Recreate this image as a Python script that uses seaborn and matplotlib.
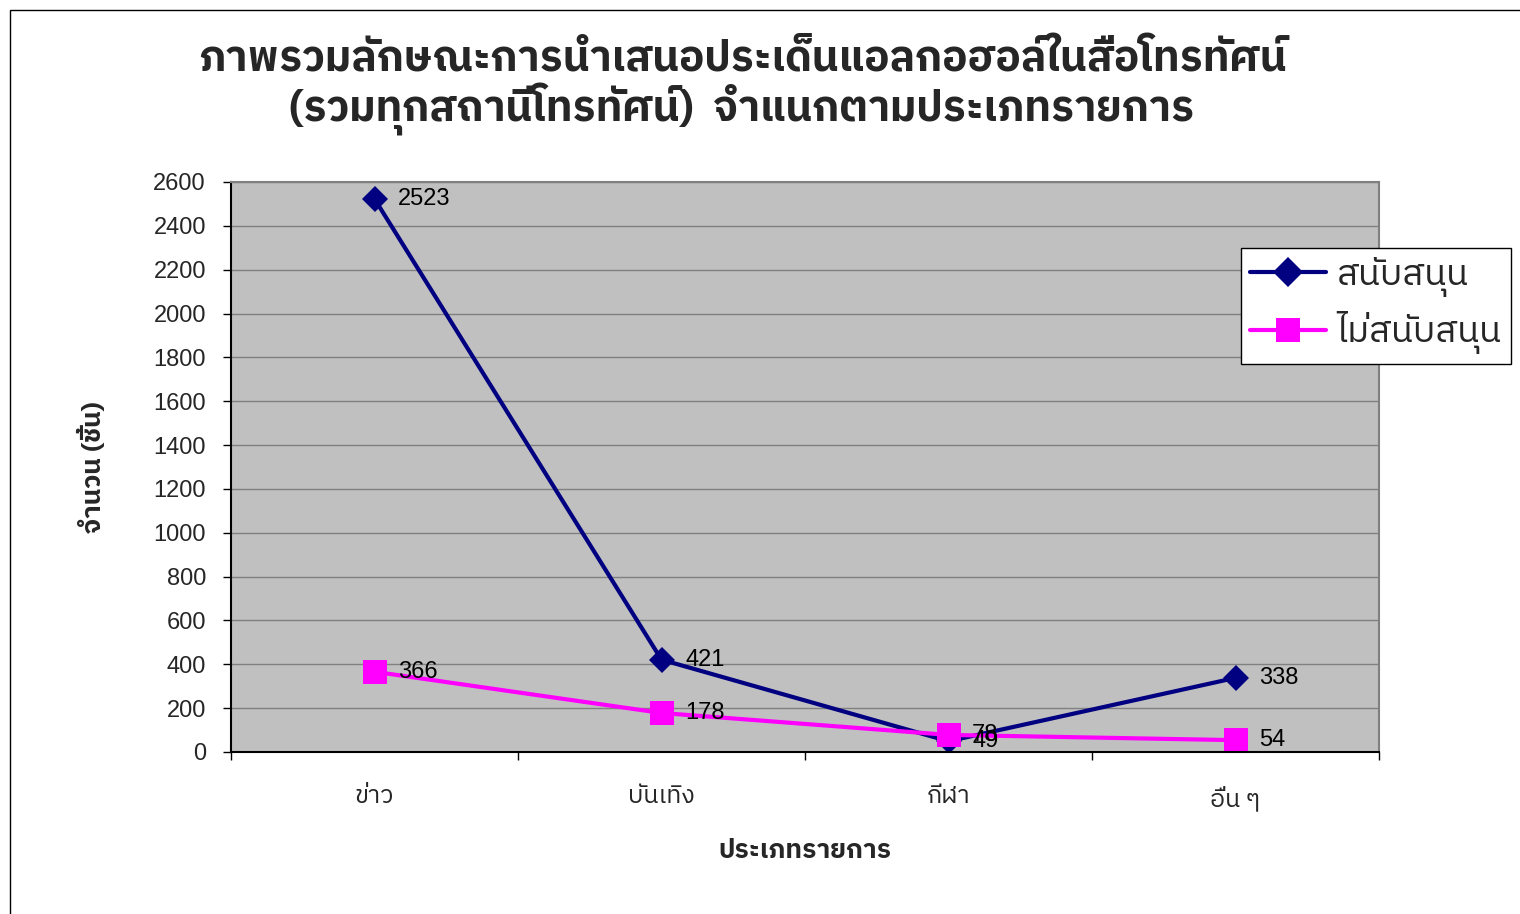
import matplotlib
matplotlib.use("Agg")
import matplotlib.pyplot as plt
import seaborn as sns
import pandas as pd
from matplotlib import font_manager
from matplotlib.ft2font import FT2Font
from matplotlib.patches import Rectangle
from matplotlib.ticker import FixedLocator

categories = ["ข่าว", "บันเทิง", "กีฬา", "อื่น ๆ"]
support = [2523, 421, 49, 338]
not_support = [366, 178, 78, 54]
series_names = ["สนับสนุน", "ไม่สนับสนุน"]
title_lines = ["ภาพรวมลักษณะการนำเสนอประเด็นแอลกอฮอล์ในสื่อโทรทัศน์",
               "(รวมทุกสถานีโทรทัศน์)  จำแนกตามประเภทรายการ"]
x_label = "ประเภทรายการ"
y_label = "จำนวน (ชิ้น)"
y_ticks = list(range(0, 2601, 200))

sns.set_theme(style="white")

# find a font with Thai glyphs
cands = []
for f in font_manager.fontManager.ttflist:
    try:
        ft = FT2Font(f.fname)
        if ord("ก") in ft.get_charmap():
            cands.append(f.name)
    except Exception:
        pass
pref = [c for c in cands if "Sans" in c and "Serif" not in c] + cands
thai = pref[0] if pref else None
fams = ([thai] if thai else []) + ["Liberation Sans", "DejaVu Sans"]
plt.rcParams["font.family"] = fams
num_font = ["Liberation Sans", "DejaVu Sans"]

fig = plt.figure(figsize=(15.2, 9.14), dpi=100)
ax = fig.add_axes([231/1520, 1-752/914, 1148/1520, 570/914])
ax.set_facecolor("#C0C0C0")

df = pd.DataFrame({
    "val": support + not_support,
    "series": [series_names[0]]*4 + [series_names[1]]*4,
})
df["x"] = list(range(4)) * 2

sns.lineplot(data=df, x="x", y="val", hue="series", style="series",
             palette={series_names[0]: "#000080", series_names[1]: "#FF00FF"},
             markers={series_names[0]: "D", series_names[1]: "s"},
             dashes=False, linewidth=3, ax=ax, legend=True,
             markeredgewidth=0)
lines = ax.get_lines()
for ln, ms in zip(lines[:2], [13, 17]):
    ln.set_markersize(ms)
    ln.set_markeredgewidth(0)

for vals in (support, not_support):
    for i, v in enumerate(vals):
        ax.annotate(str(v), (i, v), xytext=(17, 0), textcoords="offset points",
                    va="center", ha="left", fontsize=17, family=num_font, color="black")

ax.set_xlim(-0.5, 3.5)
ax.set_ylim(0, 2600)
ax.set_yticks(y_ticks)
ax.set_yticklabels([str(t) for t in y_ticks], fontsize=17, family=num_font)
ax.set_xticks(range(4))
ax.set_xticklabels(categories, fontsize=18)
ax.xaxis.set_minor_locator(FixedLocator([-0.5, 0.5, 1.5, 2.5, 3.5]))
ax.tick_params(axis="x", which="major", length=0, pad=24)
ax.tick_params(axis="x", which="minor", length=6, width=1, color="black", bottom=True, direction="out")
ax.tick_params(axis="y", length=6, width=1, color="black", left=True, direction="out", pad=12)
ax.yaxis.grid(True, color="#808080", linewidth=1)
ax.set_axisbelow(True)
for s in ax.spines.values():
    s.set_color("#808080")
    s.set_linewidth(1.5)
ax.spines["bottom"].set_color("black")
ax.spines["left"].set_color("black")

ax.set_xlabel(x_label, fontsize=19, fontweight="bold", labelpad=20)
ax.set_ylabel(y_label, fontsize=19, fontweight="bold", labelpad=34)

handles, labels = ax.get_legend_handles_labels()
if ax.legend_:
    ax.legend_.remove()
leg = fig.legend(handles, labels, loc="upper left",
                 bbox_to_anchor=(1241/1520, 1-248/914), bbox_transform=fig.transFigure,
                 fontsize=26, frameon=True, fancybox=False, handlelength=2.1,
                 borderaxespad=0, borderpad=0.25, labelspacing=0.4, handletextpad=0.3)
leg.get_frame().set_edgecolor("black")
leg.get_frame().set_linewidth(1)
leg.get_frame().set_facecolor("white")
leg.get_frame().set_alpha(1)
for h in leg.legend_handles:
    h.set_linewidth(3)
    h.set_markeredgewidth(0)
leg.legend_handles[0].set_markersize(15)
leg.legend_handles[1].set_markersize(17)

fig.text(742/1520, 1-60/914, title_lines[0], ha="center", va="center", fontsize=30.5, fontweight="bold")
fig.text(742/1520, 1-110/914, title_lines[1], ha="center", va="center", fontsize=30.5, fontweight="bold")

fig.patches.append(Rectangle((10/1520, -0.1), 1.2, 1.1 - 10/914, transform=fig.transFigure,
                             fill=False, edgecolor="black", linewidth=1))

fig.savefig("out.png", dpi=100)
